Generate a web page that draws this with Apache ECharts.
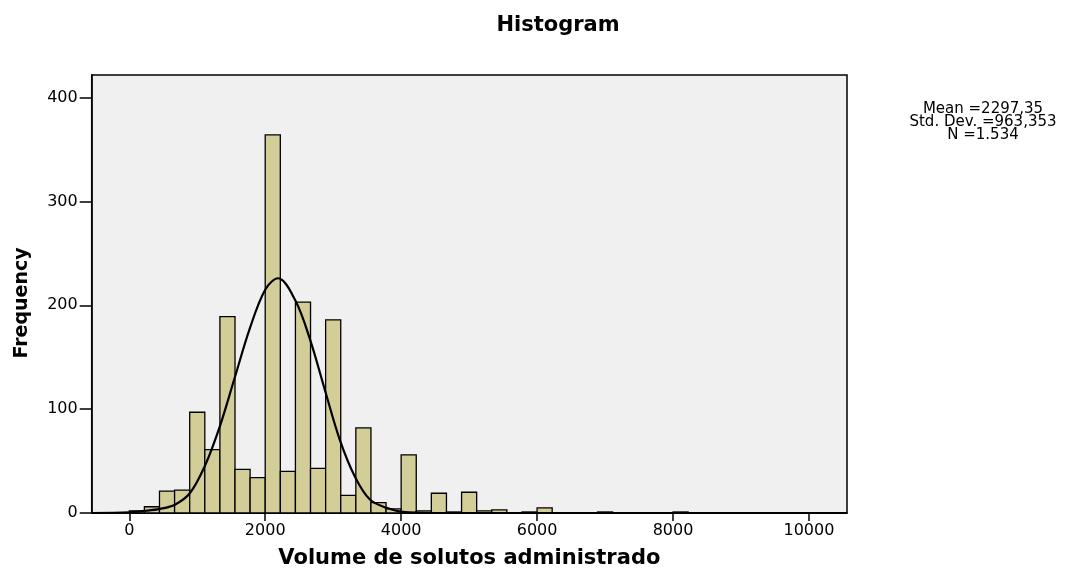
<!DOCTYPE html>
<html>
<head>
<meta charset="utf-8">
<script src="https://cdn.jsdelivr.net/npm/echarts@6/dist/echarts.min.js"></script>
<style>
  html, body { margin: 0; padding: 0; background: #fff; }
  #chart { width: 1073px; height: 574px; }
</style>
</head>
<body>
<div id="chart"></div>
<script>
// histogram bins: 45 bins of width 2000/9 starting at 0
const binWidth = 2000 / 9;
const binCounts = [
  2, 6, 21, 22, 97, 61, 189, 42, 34, 364,
  40, 203, 43, 186, 17, 82, 10, 4, 56, 2,
  19, 1, 20, 2, 3, 0, 1, 5, 0, 0,
  0, 1, 0, 0, 0, 0, 1, 0, 0, 0,
  0, 0, 0, 0, 0
];

// normal curve
const curveX = [-553, 0, 220, 450, 670, 890, 1110, 1330, 1550, 1775, 2000, 2190, 2440, 2660, 2880, 3100, 3320, 3540, 3785, 4025, 4500, 10560];
const curveY = [0, 0.7, 2, 4, 8, 19, 45, 83, 130, 178, 215, 226, 205, 167, 118, 70, 35, 13, 5, 1, 0, 0];

const xTicks = [0, 2000, 4000, 6000, 8000, 10000];
const yTicks = [0, 100, 200, 300, 400];

const statsLines = ['Mean =2297,35', 'Std. Dev. =963,353', 'N =1.534'];

const chart = echarts.init(document.getElementById('chart'));

const histData = binCounts.map((c, i) => [i * binWidth, (i + 1) * binWidth, c]);
const curveData = curveX.map((x, i) => [x, curveY[i]]);

const font = '"DejaVu Sans", Arial, sans-serif';

chart.setOption({
  animation: false,
  title: {
    text: 'Histogram',
    left: 553,
    textAlign: 'center',
    top: 10,
    textStyle: { fontFamily: font, fontSize: 21, fontWeight: 'bold', color: '#000' }
  },
  graphic: [{
    type: 'text',
    x: 983,
    y: 103,
    style: {
      text: statsLines.join('\n'),
      align: 'center',
      fill: '#000',
      font: '15px "DejaVu Sans", Arial, sans-serif',
      lineHeight: 13
    }
  }],
  grid: {
    left: 91.7,
    right: 226,
    top: 75,
    bottom: 57.3,
    show: true,
    backgroundColor: '#f0f0f0',
    borderColor: '#000',
    borderWidth: 1.5
  },
  xAxis: {
    type: 'value',
    min: -553,
    max: 10560,
    name: 'Volume de solutos administrado',
    nameLocation: 'middle',
    nameGap: 35,
    nameTextStyle: { fontFamily: font, fontSize: 21, fontWeight: 'bold', color: '#000' },
    axisLine: { show: true, onZero: false, lineStyle: { color: '#000', width: 1.5 } },
    axisTick: { show: true, length: 8, customValues: xTicks, lineStyle: { color: '#000', width: 1.5 } },
    axisLabel: { customValues: xTicks, margin: 10, fontFamily: font, fontSize: 16, color: '#000', formatter: v => String(v) },
    splitLine: { show: false }
  },
  yAxis: {
    type: 'value',
    min: 0,
    max: 421.7,
    name: 'Frequency',
    nameLocation: 'middle',
    nameRotate: 90,
    nameGap: 60,
    nameTextStyle: { fontFamily: font, fontSize: 19, fontWeight: 'bold', color: '#000', padding: [0, 0, 0, -18] },
    axisLine: { show: true, onZero: false, lineStyle: { color: '#000', width: 1.5 } },
    axisTick: { show: true, length: 12, customValues: yTicks, lineStyle: { color: '#000', width: 1.5 } },
    axisLabel: { customValues: yTicks, margin: 14, fontFamily: font, fontSize: 16, color: '#000', formatter: v => String(v) },
    splitLine: { show: false }
  },
  series: [
    {
      type: 'custom',
      data: histData,
      encode: { x: [0, 1], y: 2 },
      renderItem: function (params, api) {
        const count = api.value(2);
        if (!count) return;
        const p0 = api.coord([api.value(0), count]);
        const p1 = api.coord([api.value(1), 0]);
        return {
          type: 'rect',
          shape: { x: p0[0], y: p0[1], width: p1[0] - p0[0], height: p1[1] - p0[1] },
          style: { fill: '#d3ce98', stroke: '#000', lineWidth: 1.3 }
        };
      }
    },
    {
      type: 'line',
      data: curveData,
      smooth: 0.35,
      symbol: 'none',
      lineStyle: { color: '#000', width: 2.2 },
      z: 5
    }
  ]
});
</script>
</body>
</html>
